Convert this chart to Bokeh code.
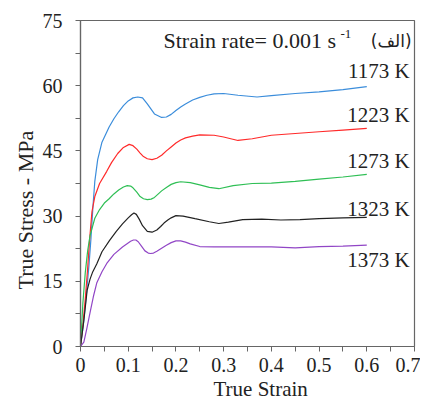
from bokeh.plotting import figure
from bokeh.models import Range1d, FixedTicker, Label, NumeralTickFormatter, Title
from bokeh.embed import file_html
from bokeh.resources import INLINE

# ---- data ----
strain_1173 = [0, 0.006, 0.012, 0.018, 0.022, 0.026, 0.03, 0.036, 0.045, 0.06, 0.07, 0.08, 0.09, 0.1, 0.11, 0.12, 0.13, 0.14, 0.155, 0.17, 0.18, 0.19, 0.2, 0.21, 0.22, 0.235, 0.25, 0.265, 0.28, 0.3, 0.33, 0.37, 0.4, 0.45, 0.5, 0.55, 0.6]
stress_1173 = [0, 5, 11.6, 19, 25, 32, 38, 43, 47, 50.5, 52.4, 54, 55.4, 56.5, 57.2, 57.4, 57.2, 55.8, 53.5, 52.7, 52.8, 53.4, 54.3, 55.1, 55.8, 56.7, 57.3, 57.8, 58.1, 58.2, 57.8, 57.4, 57.7, 58.2, 58.6, 59.1, 59.8]

strain_1223 = [0, 0.005, 0.01, 0.015, 0.019, 0.024, 0.03, 0.04, 0.055, 0.065, 0.078, 0.09, 0.102, 0.11, 0.118, 0.125, 0.132, 0.14, 0.15, 0.16, 0.17, 0.18, 0.19, 0.2, 0.21, 0.22, 0.235, 0.25, 0.28, 0.3, 0.33, 0.36, 0.4, 0.45, 0.5, 0.55, 0.6]
stress_1223 = [0, 5, 11, 18, 24.5, 31, 34.5, 37.5, 40.3, 42.3, 44.4, 45.8, 46.5, 46.2, 45.4, 44.5, 43.7, 43.2, 43, 43.3, 44, 45, 45.9, 46.8, 47.5, 48, 48.4, 48.7, 48.6, 48.2, 47.4, 47.8, 48.6, 49, 49.4, 49.8, 50.2]

strain_1273 = [0, 0.005, 0.01, 0.015, 0.02, 0.03, 0.04, 0.05, 0.06, 0.07, 0.08, 0.09, 0.098, 0.105, 0.11, 0.118, 0.125, 0.132, 0.14, 0.148, 0.155, 0.162, 0.17, 0.18, 0.19, 0.2, 0.21, 0.23, 0.25, 0.27, 0.29, 0.32, 0.36, 0.4, 0.45, 0.5, 0.55, 0.6]
stress_1273 = [0, 10, 17, 22, 25.5, 29.5, 31.5, 33, 34, 35.1, 36, 36.7, 37, 36.9, 36.5, 35.5, 34.5, 34, 33.8, 33.9, 34.3, 35, 35.8, 36.6, 37.3, 37.7, 37.9, 37.7, 37.2, 36.6, 36.3, 37, 37.5, 37.6, 38, 38.5, 39, 39.6]

strain_1323 = [0, 0.007, 0.014, 0.02, 0.025, 0.034, 0.045, 0.061, 0.075, 0.088, 0.1, 0.107, 0.112, 0.117, 0.123, 0.13, 0.14, 0.15, 0.16, 0.168, 0.175, 0.183, 0.19, 0.2, 0.215, 0.24, 0.27, 0.29, 0.31, 0.34, 0.38, 0.42, 0.46, 0.5, 0.55, 0.6]
stress_1323 = [0, 6, 13, 15.5, 17, 19, 21.8, 24.4, 26.5, 28.2, 29.6, 30.3, 30.7, 30.4, 29.3, 27.8, 26.5, 26.3, 26.8, 27.6, 28.4, 29.1, 29.6, 30.1, 30, 29.4, 28.7, 28.3, 28.6, 29.2, 29.3, 29.1, 29.2, 29.4, 29.6, 29.7]

strain_1373 = [0, 0.007, 0.013, 0.02, 0.027, 0.034, 0.045, 0.055, 0.07, 0.088, 0.105, 0.111, 0.116, 0.121, 0.127, 0.135, 0.142, 0.147, 0.153, 0.16, 0.17, 0.18, 0.19, 0.2, 0.21, 0.22, 0.23, 0.25, 0.28, 0.3, 0.35, 0.4, 0.45, 0.5, 0.55, 0.6]
stress_1373 = [0, 1, 4, 7.8, 11.5, 14.6, 17.2, 19.1, 21.2, 22.9, 24.2, 24.5, 24.5, 24.1, 23.2, 22, 21.5, 21.4, 21.5, 21.9, 22.6, 23.3, 23.9, 24.3, 24.3, 24, 23.6, 23, 22.9, 22.9, 22.9, 22.9, 22.7, 23, 23.1, 23.3]

series_names = ["1173 K", "1223 K", "1273 K", "1323 K", "1373 K"]
label_y = [63.3, 53.2, 42.7, 31.7, 20.0]

x_major = [0, 0.1, 0.2, 0.3, 0.4, 0.5, 0.6, 0.7]
x_minor = [0.05, 0.15, 0.25, 0.35, 0.45, 0.55, 0.65]
y_major = [0, 15, 30, 45, 60, 75]
y_minor = [7.5, 22.5, 37.5, 52.5, 67.5]

FONT = "Liberation Serif"
AX = "#666666"
TXT = "#222222"

p = figure(width=420, height=401, output_backend="svg", toolbar_location=None,
           x_range=Range1d(0, 0.7), y_range=Range1d(0, 75),
           min_border_left=80, min_border_right=6, min_border_top=20, min_border_bottom=55)
p.xgrid.visible = False
p.ygrid.visible = False
p.outline_line_color = AX
p.outline_line_width = 1.2
p.background_fill_color = "white"
p.border_fill_color = "white"

p.xaxis.ticker = FixedTicker(ticks=x_major, minor_ticks=x_minor)
p.yaxis.ticker = FixedTicker(ticks=y_major, minor_ticks=y_minor)
p.xaxis.formatter = NumeralTickFormatter(format="0.[0]")
p.yaxis.formatter = NumeralTickFormatter(format="0")

for ax in (p.xaxis, p.yaxis):
    ax.axis_line_color = AX
    ax.axis_line_width = 1.2
    ax.major_tick_line_color = AX
    ax.minor_tick_line_color = AX
    ax.major_tick_in = 0
    ax.major_tick_out = 5
    ax.minor_tick_in = 0
    ax.minor_tick_out = 5
    ax.major_label_text_font = FONT
    ax.major_label_text_font_size = "20px"
    ax.major_label_text_color = TXT

p.xaxis.major_label_standoff = 6
p.yaxis.major_label_standoff = 13

# axis titles (placed as side titles so they can be offset like the reference)
p.add_layout(Title(text="True Stress  - MPa", align="left", offset=57, standoff=4,
                   text_font=FONT, text_font_size="22px", text_font_style="normal",
                   text_color=TXT), "left")
p.add_layout(Title(text="True Strain", align="left", offset=133, standoff=0,
                   text_font=FONT, text_font_size="21px", text_font_style="normal",
                   text_color=TXT), "below")

colors = ["#3b8ddb", "#ff2a2a", "#2fbf55", "#222222", "#9146c6"]
xs = [strain_1173, strain_1223, strain_1273, strain_1323, strain_1373]
ys = [stress_1173, stress_1223, stress_1273, stress_1323, stress_1373]
for x, y, c in zip(xs, ys, colors):
    p.line(x, y, line_color=c, line_width=1.2)

for name, ly in zip(series_names, label_y):
    p.add_layout(Label(x=0.69, y=ly, text=name, text_align="right", text_baseline="middle",
                       text_font=FONT, text_font_size="21px", text_color=TXT))

p.add_layout(Label(x=0.174, y=70.3, text="Strain rate= 0.001 s", text_align="left",
                   text_baseline="middle", text_font=FONT, text_font_size="22px", text_color=TXT))
p.add_layout(Label(x=0.545, y=71.9, text="-1", text_align="left",
                   text_baseline="middle", text_font=FONT, text_font_size="13px", text_color=TXT))
p.add_layout(Label(x=0.694, y=70.3, text="(الف)", text_align="right",
                   text_baseline="middle", text_font="DejaVu Sans", text_font_size="17px", text_color=TXT))

open("out.html", "w").write(file_html(p, INLINE))
